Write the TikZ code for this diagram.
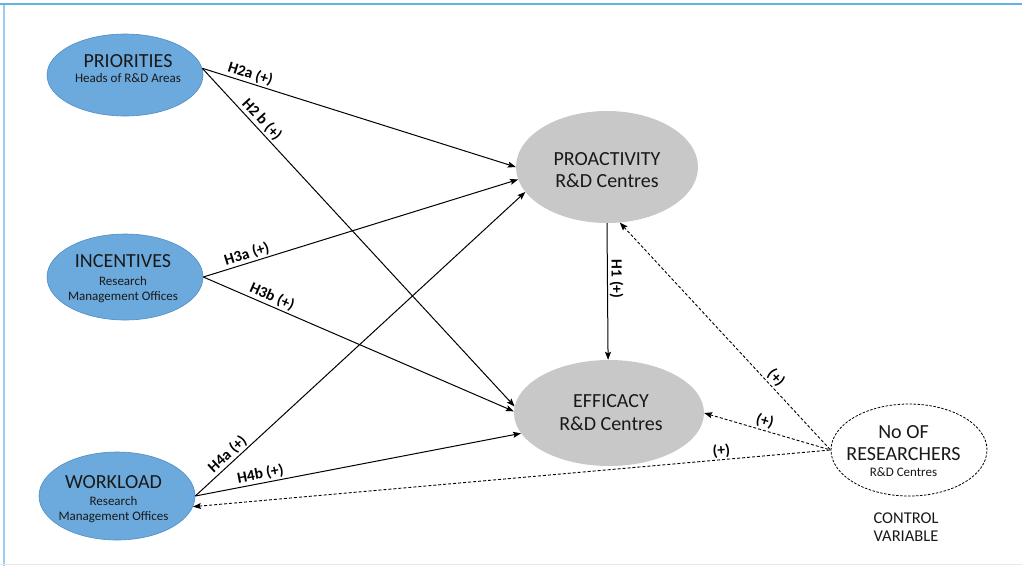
\documentclass[tikz,border=0pt]{standalone}
\usepackage{fontspec}
\setmainfont{Carlito}
\usetikzlibrary{shapes.geometric,arrows.meta}
\definecolor{bluefill}{RGB}{108,170,221}
\definecolor{blueedge}{RGB}{80,140,196}
\definecolor{grayfill}{RGB}{200,200,200}
\definecolor{frametop}{RGB}{95,180,228}
\definecolor{frameleft}{RGB}{150,208,238}
\definecolor{framebot}{RGB}{232,232,232}
\definecolor{txt}{RGB}{25,25,25}
\tikzset{
  blueell/.style={ellipse, fill=bluefill, draw=blueedge, line width=0.6pt, inner sep=0pt},
  grayell/.style={ellipse, fill=grayfill, draw=none, inner sep=0pt},
  ctrlell/.style={ellipse, fill=white, draw=black, dash pattern=on 2.5pt off 1.5pt, line width=0.8pt, inner sep=0pt},
  bigtxt/.style={anchor=base, inner sep=0pt, text=txt, font=\fontsize{20}{24}\selectfont},
  smalltxt/.style={anchor=base, inner sep=0pt, text=txt, font=\fontsize{13}{15}\selectfont},
  ctrltxt/.style={anchor=base, inner sep=0pt, text=txt, font=\fontsize{16.5}{19}\selectfont},
  lab/.style={sloped, above, inner sep=1.5pt, text=black, font=\bfseries\fontsize{15.5}{18}\selectfont},
  hyp/.style={draw=black, line width=1pt, -{Stealth[length=8pt,width=6pt,inset=1.5pt]}},
  ctrl/.style={draw=black, line width=0.9pt, dash pattern=on 3pt off 2pt, {Stealth[length=8pt,width=6pt,inset=1.5pt]}-},
}
\begin{document}
\begin{tikzpicture}[x=1pt,y=-1pt]
\useasboundingbox (0,0) rectangle (1022,566);
% frame
\draw[frameleft, line width=1.5pt] (4,4) -- (4,566);
\draw[framebot, line width=1pt] (0,564.5) -- (1022,564.5);
\draw[frametop, line width=2pt] (0,4) -- (1022,4);

% ellipses
\node[blueell, minimum width=156pt, minimum height=82pt] (prio) at (125,75) {};
\node[blueell, minimum width=156pt, minimum height=86pt] (inc) at (125,277) {};
\node[blueell, minimum width=156pt, minimum height=88pt] (work) at (117,496) {};
\node[grayell, minimum width=182pt, minimum height=112pt] (proact) at (607,167) {};
\node[grayell, minimum width=190pt, minimum height=106pt] (eff) at (609,413) {};
\node[ctrlell, minimum width=156pt, minimum height=92pt] (res) at (909,450) {};

% texts
\node[bigtxt] (prioT) at (128,67) {PRIORITIES};
\node[smalltxt] (prioS) at (128,82) {Heads of R\&D Areas};
\node[bigtxt] (incT) at (123,267) {INCENTIVES};
\node[smalltxt] (incS) at (123,285) {Research};
\node[smalltxt] (incS2) at (123,300) {Management Offices};
\node[bigtxt] (workT) at (113.5,488) {WORKLOAD};
\node[smalltxt] (workS) at (113.5,505) {Research};
\node[smalltxt] (workS2) at (113.5,520) {Management Offices};
\node[bigtxt] (proT) at (607,165) {PROACTIVITY};
\node[bigtxt] (proS) at (607,187) {R\&D Centres};
\node[bigtxt] (effT) at (611,407) {EFFICACY};
\node[bigtxt] (effS) at (611,430) {R\&D Centres};
\node[bigtxt] (resT) at (903.5,438) {No OF};
\node[bigtxt] (resT2) at (903.5,460) {RESEARCHERS};
\node[smalltxt] (resS) at (903.5,476) {R\&D Centres};
\node[ctrltxt] (cv1) at (906,523) {CONTROL};
\node[ctrltxt] (cv2) at (906,541) {VARIABLE};

% hypotheses
\draw[hyp] (prio.5) -- node[lab, pos=.145] {H2a (+)} (proact.180);
\draw[hyp] (prio.5) -- node[lab, pos=.17] {H2 b (+)} (eff.176);
\draw[hyp] (inc.east) -- node[lab, pos=.147] {H3a (+)} (proact.188);
\draw[hyp] (inc.east) -- node[lab, pos=.21] {H3b (+)} (eff.179);
\draw[hyp] (work.east) -- node[lab, pos=.116] {H4a (+)} (proact.197);
\draw[hyp] (work.east) -- node[lab, pos=.205] {H4b (+)} (eff.193);
\draw[hyp] (proact.south) -- node[lab, pos=.41] {H1 (+)} (eff.91);

% control variable
\draw[ctrl] (proact.283) -- node[lab, pos=.71] {(+)} (res.west);
\draw[ctrl] (eff.east) -- node[lab, pos=.46] {(+)} (res.west);
\draw[ctrl] (work.-8) -- node[lab, pos=.83] {(+)} (res.west);
\end{tikzpicture}
\end{document}
